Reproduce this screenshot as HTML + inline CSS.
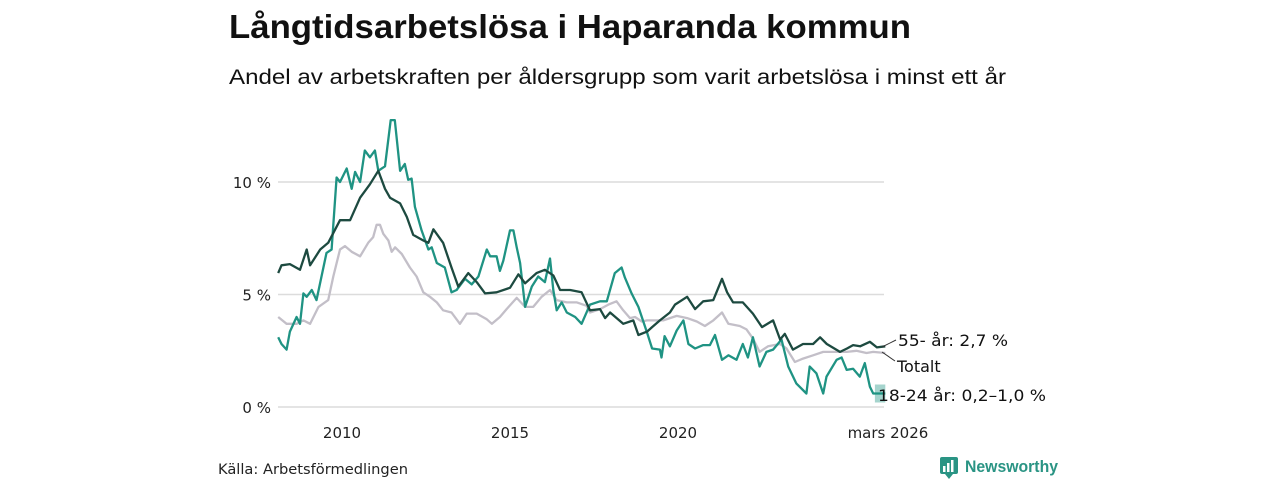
<!DOCTYPE html>
<html><head><meta charset="utf-8"><style>
html,body{margin:0;padding:0;background:#fff;width:1280px;height:480px;overflow:hidden}
svg{display:block;font-family:"Liberation Sans","DejaVu Sans",sans-serif}
.dv{font-family:"DejaVu Sans","Liberation Sans",sans-serif}
</style></head><body>
<svg id="chart" width="1280" height="480" viewBox="0 0 1280 480">
<text x="229" y="38" font-size="33" font-weight="bold" fill="#111" textLength="682" lengthAdjust="spacingAndGlyphs">Långtidsarbetslösa i Haparanda kommun</text>
<text x="229" y="84" font-size="21" fill="#111" textLength="777" lengthAdjust="spacingAndGlyphs">Andel av arbetskraften per åldersgrupp som varit arbetslösa i minst ett år</text>
<g id="grid"></g>
<g id="yticks"></g>
<g id="xticks"></g>
<g id="series"></g>
<g class="dv">
<line x1="882" y1="347" x2="896" y2="340" stroke="#333" stroke-width="1"/>
<line x1="882" y1="352" x2="895" y2="361" stroke="#333" stroke-width="1"/>
<text x="898" y="346" font-size="16" fill="#111" textLength="110" lengthAdjust="spacingAndGlyphs">55- år: 2,7 %</text>
<text x="897" y="372" font-size="16" fill="#111">Totalt</text>
<text x="878" y="401" font-size="16" fill="#111" textLength="168" lengthAdjust="spacingAndGlyphs">18-24 år: 0,2–1,0 %</text>
</g>
<text x="218" y="474" font-size="14.5" fill="#222" class="dv" textLength="190" lengthAdjust="spacingAndGlyphs">Källa: Arbetsförmedlingen</text>
<g>
<rect x="940" y="457" width="18" height="17" rx="2" fill="#2a9484"/>
<polygon points="945,474 949,479 953,474" fill="#2a9484"/>
<rect x="943" y="466" width="2.5" height="6" fill="#fff"/><rect x="947" y="463" width="2.5" height="9" fill="#fff"/><rect x="951" y="460" width="2.5" height="12" fill="#fff"/>
<text x="965" y="472" font-size="17" font-weight="bold" fill="#2a9484" textLength="93" lengthAdjust="spacingAndGlyphs">Newsworthy</text>
</g>
</svg>
<script>
const yTicks=[0,5,10];
const yTickLabels=["0 %","5 %","10 %"];
const xTicks=[2010,2015,2020,2026.17];
const xTickLabels=["2010","2015","2020","mars 2026"];
const t55=[2008.10,2008.20,2008.45,2008.75,2008.95,2009.05,2009.35,2009.59,2009.94,2010.24,2010.54,2010.83,2011.08,2011.28,2011.43,2011.73,2011.93,2012.12,2012.42,2012.57,2012.72,2013.01,2013.26,2013.46,2013.76,2014.01,2014.26,2014.60,2015.0,2015.25,2015.45,2015.79,2016.04,2016.29,2016.49,2016.79,2017.13,2017.38,2017.68,2017.83,2017.98,2018.37,2018.67,2018.82,2019.08,2019.23,2019.46,2019.76,2019.91,2020.27,2020.51,2020.75,2021.05,2021.31,2021.46,2021.64,2021.93,2022.23,2022.5,2022.83,2023.04,2023.18,2023.42,2023.72,2024.02,2024.23,2024.43,2024.82,2025.03,2025.21,2025.42,2025.71,2025.92,2026.17];
const v55=[5.95,6.3,6.35,6.1,7.0,6.3,7.0,7.3,8.3,8.3,9.3,9.9,10.5,9.7,9.3,9.05,8.45,7.65,7.4,7.3,7.9,7.3,6.2,5.35,5.95,5.55,5.05,5.1,5.3,5.9,5.5,5.95,6.1,5.85,5.2,5.2,5.1,4.3,4.35,3.95,4.2,3.7,3.85,3.2,3.35,3.55,3.85,4.2,4.55,4.9,4.35,4.7,4.75,5.7,5.1,4.65,4.65,4.15,3.55,3.85,3.0,3.25,2.55,2.8,2.8,3.1,2.8,2.45,2.6,2.75,2.7,2.9,2.65,2.7];
const tTot=[2008.10,2008.35,2008.65,2008.85,2009.05,2009.30,2009.59,2009.74,2009.94,2010.09,2010.29,2010.54,2010.78,2010.93,2011.03,2011.13,2011.23,2011.38,2011.48,2011.58,2011.78,2012.02,2012.22,2012.42,2012.62,2012.82,2013.01,2013.26,2013.51,2013.71,2014.01,2014.31,2014.46,2014.70,2014.90,2015.20,2015.45,2015.69,2015.94,2016.19,2016.39,2016.69,2016.99,2017.28,2017.38,2017.68,2017.93,2018.17,2018.37,2018.57,2018.72,2018.92,2019.08,2019.27,2019.56,2019.96,2020.27,2020.56,2020.80,2021.05,2021.31,2021.50,2021.84,2022.04,2022.23,2022.43,2022.68,2023.04,2023.23,2023.48,2023.72,2024.02,2024.32,2024.72,2025.02,2025.31,2025.61,2025.81,2026.17];
const vTot=[4.0,3.7,3.7,3.85,3.7,4.45,4.75,5.8,7.0,7.15,6.9,6.7,7.3,7.55,8.1,8.1,7.7,7.4,6.9,7.1,6.8,6.2,5.8,5.1,4.9,4.65,4.3,4.2,3.7,4.15,4.15,3.9,3.7,4.0,4.35,4.85,4.45,4.45,4.9,5.2,4.75,4.65,4.65,4.5,4.2,4.35,4.55,4.7,4.3,3.95,4.0,3.8,3.85,3.85,3.85,4.05,3.95,3.8,3.6,3.85,4.2,3.7,3.6,3.45,3.05,2.45,2.7,2.8,2.6,2.0,2.15,2.3,2.45,2.45,2.45,2.5,2.4,2.45,2.4];
const t1824=[2008.10,2008.20,2008.35,2008.45,2008.65,2008.75,2008.85,2008.95,2009.10,2009.24,2009.39,2009.54,2009.69,2009.84,2009.94,2010.14,2010.29,2010.39,2010.54,2010.68,2010.83,2010.98,2011.08,2011.28,2011.45,2011.57,2011.73,2011.87,2011.97,2012.07,2012.17,2012.37,2012.57,2012.67,2012.82,2013.06,2013.26,2013.41,2013.66,2013.86,2014.06,2014.31,2014.41,2014.60,2014.70,2014.80,2015.0,2015.10,2015.2,2015.3,2015.45,2015.65,2015.84,2016.04,2016.19,2016.29,2016.39,2016.54,2016.69,2016.94,2017.13,2017.38,2017.68,2017.88,2018.12,2018.32,2018.42,2018.62,2018.82,2019.08,2019.23,2019.46,2019.51,2019.6,2019.76,2019.96,2020.16,2020.31,2020.51,2020.75,2020.95,2021.1,2021.31,2021.5,2021.74,2021.93,2022.08,2022.23,2022.43,2022.63,2022.83,2023.08,2023.28,2023.52,2023.82,2023.92,2024.12,2024.32,2024.42,2024.72,2024.87,2025.02,2025.21,2025.41,2025.56,2025.71,2025.81,2026.17];
const v1824=[3.1,2.8,2.55,3.35,4.0,3.7,5.05,4.9,5.2,4.75,5.8,6.85,7.0,10.2,10.0,10.6,9.7,10.45,10.0,11.4,11.1,11.4,10.5,10.7,12.75,12.75,10.5,10.8,10.1,10.15,8.9,7.85,7.0,7.1,6.4,6.2,5.1,5.2,5.7,5.45,5.8,7.0,6.7,6.7,6.05,6.5,7.85,7.85,7.1,6.4,4.45,5.35,5.8,5.55,6.6,5.2,4.3,4.65,4.2,4.0,3.7,4.55,4.7,4.7,5.95,6.2,5.75,5.05,4.45,3.3,2.6,2.55,2.2,3.15,2.7,3.4,3.85,2.8,2.6,2.75,2.75,3.2,2.1,2.3,2.1,2.8,2.2,3.1,1.8,2.45,2.55,3.0,1.8,1.05,0.6,1.8,1.5,0.6,1.35,2.1,2.2,1.65,1.7,1.35,1.95,0.9,0.6,0.6];
const rangeT=[2025.86,2026.17];
const rangeLo=0.2, rangeHi=1.0;

const NS="http://www.w3.org/2000/svg";
function X(t){return 342+(t-2010)*33.6;}
function Y(v){return 407-v*22.5;}
function mk(tag,attrs,parent){const e=document.createElementNS(NS,tag);for(const k in attrs)e.setAttribute(k,attrs[k]);parent.appendChild(e);return e;}
const grid=document.getElementById('grid'),yt=document.getElementById('yticks'),xt=document.getElementById('xticks'),ser=document.getElementById('series');
yTicks.forEach((v,i)=>{
  const l=mk('line',{x1:278,x2:884,y1:Y(v),y2:Y(v),stroke:'#dcdcdc','stroke-width':1.5},grid);
  
  
  const tx=mk('text',{x:271,y:Y(v)+6,'font-size':15,fill:'#222','text-anchor':'end',class:'dv'},yt);
  tx.textContent=yTickLabels[i];
  
  
});
xTicks.forEach((t,i)=>{
  const tx=mk('text',{x:X(t),y:438,'font-size':15,fill:'#222','text-anchor':i==3?'end':'middle',class:'dv'},xt);
  if(i==3)tx.setAttribute('x',X(t)+43);
  tx.textContent=xTickLabels[i];
  
  
});
function line(ts,vs,color,name){
  const d=ts.map((t,i)=>(i?'L':'M')+X(t).toFixed(1)+','+Y(vs[i]).toFixed(1)).join('');
  const p=mk('path',{d:d,fill:'none',stroke:color,'stroke-width':2.3,'stroke-linejoin':'round'},ser);
  
  
}
line(tTot,vTot,'#c3bfc8','line-totalt');
line(t1824,v1824,'#1f9383','line-18-24');
line(t55,v55,'#1d4a40','line-55-plus');
const band=mk('rect',{x:X(rangeT[0]),y:Y(rangeHi),width:X(rangeT[1])-X(rangeT[0]),height:Y(rangeLo)-Y(rangeHi),fill:'#1f9383','fill-opacity':0.4},ser);


</script>
</body></html>
